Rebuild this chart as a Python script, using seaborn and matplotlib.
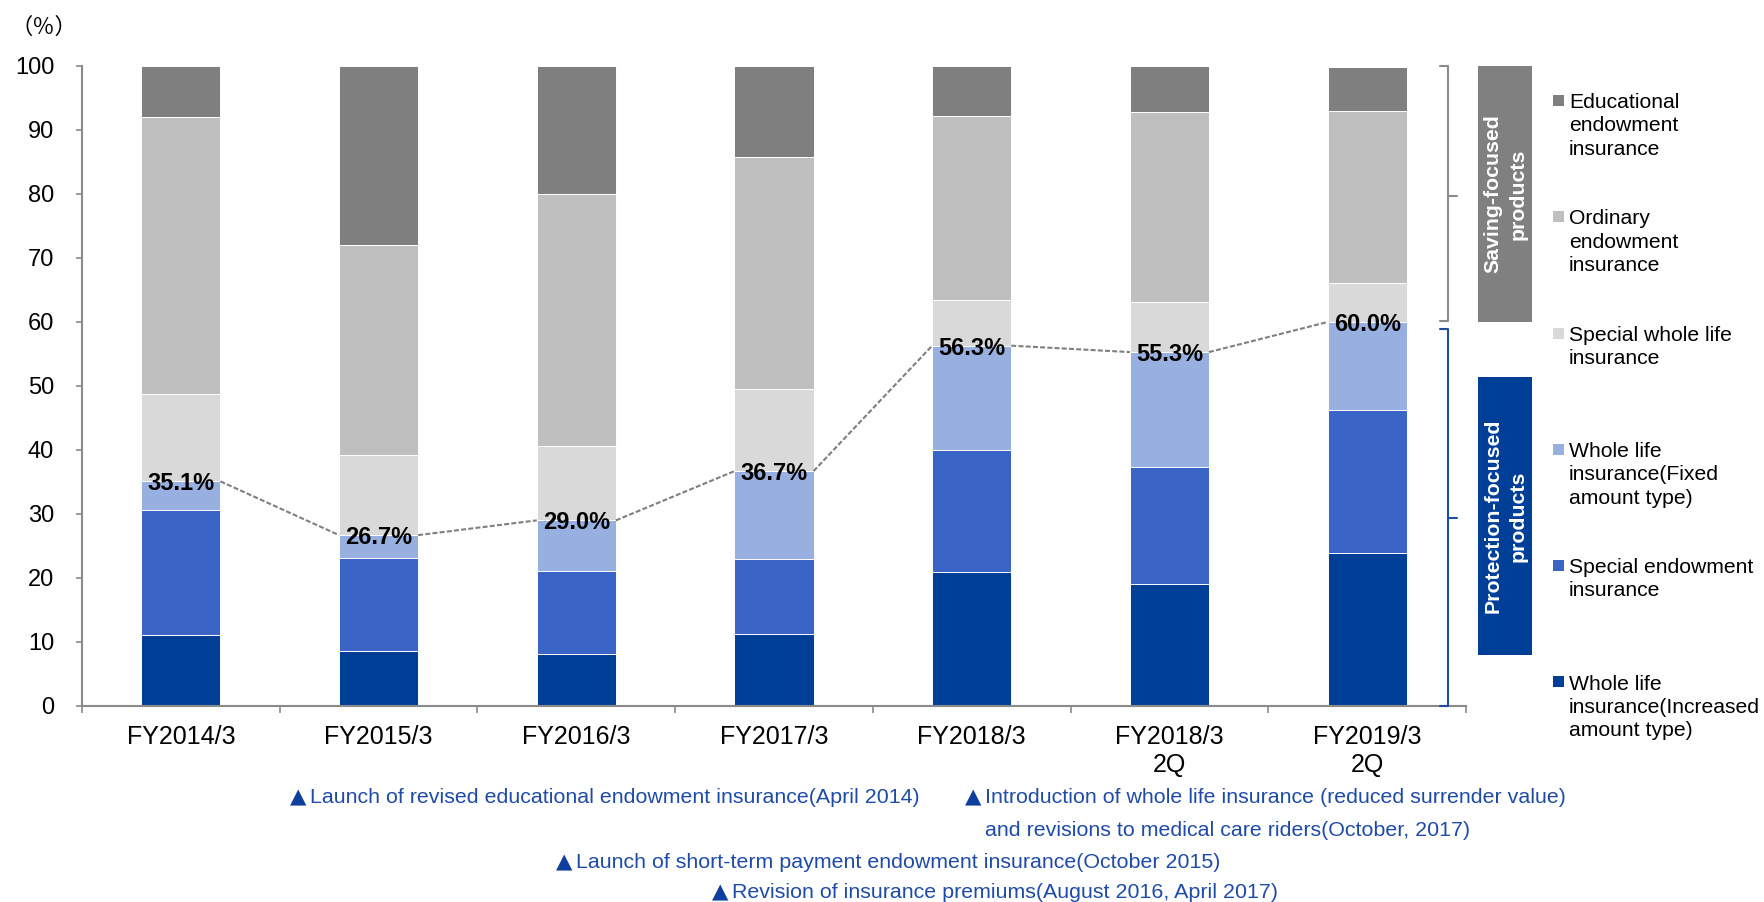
import numpy as np
import matplotlib
matplotlib.use("Agg")
import matplotlib.pyplot as plt
from matplotlib.patches import Rectangle
from matplotlib.lines import Line2D
import seaborn as sns

# ---- data (shares of new policies, %) ----
categories = ["FY2014/3", "FY2015/3", "FY2016/3", "FY2017/3", "FY2018/3",
              "FY2018/3\n2Q", "FY2019/3\n2Q"]

# stacked from the bottom up
whole_life_increased = [11.1, 8.6, 8.1, 11.2, 20.9, 19.0, 23.9]
special_endowment = [19.5, 14.5, 13.0, 11.8, 19.1, 18.4, 22.4]
whole_life_fixed = [4.5, 3.6, 7.9, 13.7, 16.3, 17.9, 13.7]
special_whole_life = [13.7, 12.5, 11.7, 12.9, 7.2, 7.9, 6.1]
ordinary_endowment = [43.2, 32.8, 39.3, 36.2, 28.7, 29.6, 26.8]
educational_endowment = [8.0, 28.0, 20.0, 14.2, 7.8, 7.2, 6.9]

series_labels = [
    "Whole life\ninsurance(Increased\namount type)",
    "Special endowment\ninsurance",
    "Whole life\ninsurance(Fixed\namount type)",
    "Special whole life\ninsurance",
    "Ordinary\nendowment\ninsurance",
    "Educational\nendowment\ninsurance",
]
series_colors = ["#003F98", "#3A64C5", "#97B0E0", "#D9D9D9", "#BFBFBF", "#7F7F7F"]

events = [
    "▲Launch of revised educational endowment insurance(April 2014)",
    "▲Introduction of whole life insurance (reduced surrender value)",
    "and revisions to medical care riders(October, 2017)",
    "▲Launch of short-term payment endowment insurance(October 2015)",
    "▲Revision of insurance premiums(August 2016, April 2017)",
]

series = [whole_life_increased, special_endowment, whole_life_fixed,
          special_whole_life, ordinary_endowment, educational_endowment]

# ---- figure setup ----
W, H = 1764, 902
sns.set_theme(style="white")
plt.rcParams["font.family"] = ["Liberation Sans", "DejaVu Sans"]
plt.rcParams["lines.scale_dashes"] = False

fig = plt.figure(figsize=(W / 100, H / 100), dpi=100)
fig.patch.set_facecolor("white")


def fx(px):
    return px / W


def fy(py):
    return 1 - py / H


ax = fig.add_axes([fx(82), fy(706), (1466 - 82) / W, (706 - 66) / H])

# ---- stacked bars: draw cumulative totals, tallest first ----
cum = np.cumsum(np.array(series, dtype=float), axis=0)
for k in range(len(series) - 1, -1, -1):
    sns.barplot(x=categories, y=cum[k], color=series_colors[k], width=0.4,
                saturation=1, edgecolor="white", linewidth=0.7, ax=ax, zorder=2)

# protection-focused share = the three bottom segments
protection = cum[2]
pos = np.arange(len(categories))
for i in range(len(categories) - 1):
    ax.plot([pos[i] + 0.2, pos[i + 1] - 0.2], [protection[i], protection[i + 1]],
            color="#7F7F7F", lw=1.5, dashes=(3.6, 1.6), zorder=3)
for i, v in enumerate(protection):
    ax.text(pos[i], v, f"{v:.1f}%", ha="center", va="center_baseline",
            fontsize=17, fontweight="bold", color="black", zorder=4)

# ---- axes styling ----
ax.set_xlim(-0.5, len(categories) - 0.5)
ax.set_ylim(0, 100)
ax.set_yticks(np.arange(0, 101, 10))
ax.set_xlabel("")
ax.set_ylabel("")
for s in ["top", "right"]:
    ax.spines[s].set_visible(False)
for s in ["left", "bottom"]:
    ax.spines[s].set_color("#8A8A8A")
    ax.spines[s].set_linewidth(1.5)
ax.set_xticks(np.arange(-0.5, len(categories), 1), minor=True)
ax.tick_params(axis="x", which="major", length=0, pad=14, labelsize=18,
               labelcolor="black")
ax.tick_params(axis="x", which="minor", length=5, width=1.2, color="#8A8A8A",
               direction="out", bottom=True)
ax.tick_params(axis="y", which="major", length=4, width=1.2, color="#8A8A8A",
               direction="out", left=True, pad=16, labelsize=17, labelcolor="black")
ax.grid(False)

fig.text(fx(44), fy(27), "（％）", ha="center", va="center", fontsize=16,
         family=["Noto Sans CJK JP", "DejaVu Sans"], color="black")

# ---- brackets grouping the segments ----
gray = "#8A8A8A"
blue = "#1F4EA0"
br_x, br_in, br_out = 1448, 1440, 1457
for (top, bot, mid, col) in [(66, 321, 196, gray), (329, 706, 518, blue)]:
    fig.add_artist(Line2D([fx(br_in), fx(br_x), fx(br_x), fx(br_in)],
                          [fy(top), fy(top), fy(bot), fy(bot)],
                          color=col, lw=1.5))
    fig.add_artist(Line2D([fx(br_x), fx(br_out)], [fy(mid), fy(mid)],
                          color=col, lw=1.5))

# ---- group boxes ----
for (top, bot, col, lines) in [
        (66, 322, "#808080", ["Saving-focused", "products"]),
        (377, 655, "#003F98", ["Protection-focused", "products"])]:
    fig.add_artist(Rectangle((fx(1478), fy(bot)), (1532 - 1478) / W,
                             (bot - top) / H, facecolor=col, edgecolor="none"))
    cy = (top + bot) / 2
    for j, ln in enumerate(lines):
        fig.text(fx(1493 + 25 * j), fy(cy), ln, rotation=90, ha="center",
                 va="center", fontsize=15.3, fontweight="bold", color="white")

# ---- legend (top entry = top segment) ----
legend_centers = [100.4, 216.7, 333.0, 449.3, 565.6, 681.9]
for n, k in enumerate(range(len(series) - 1, -1, -1)):
    c = legend_centers[n]
    fig.add_artist(Rectangle((fx(1553), fy(c + 5.5)), 11 / W, 11 / H,
                             facecolor=series_colors[k], edgecolor="none"))
    for j, ln in enumerate(series_labels[k].split("\n")):
        fig.text(fx(1569), fy(c + 7.6 + 23.3 * j), ln, ha="left",
                 va="baseline", fontsize=15.2, color="black")

# ---- product events below the chart ----
event_pos = [(290, 803), (965, 803), (985, 836), (556, 868), (712, 898)]
for txt, (x0, yb) in zip(events, event_pos):
    if txt.startswith("▲"):
        fig.text(fx(x0), fy(yb), "▲", ha="left", va="baseline", fontsize=15.4,
                 color="#0E3F9E", family=["DejaVu Sans"])
        txt, x0 = txt[1:], x0 + 20
    fig.text(fx(x0), fy(yb), txt, ha="left", va="baseline", fontsize=15.4,
             color="#1F4BA8")

fig.savefig("out.png", dpi=100, facecolor="white")
